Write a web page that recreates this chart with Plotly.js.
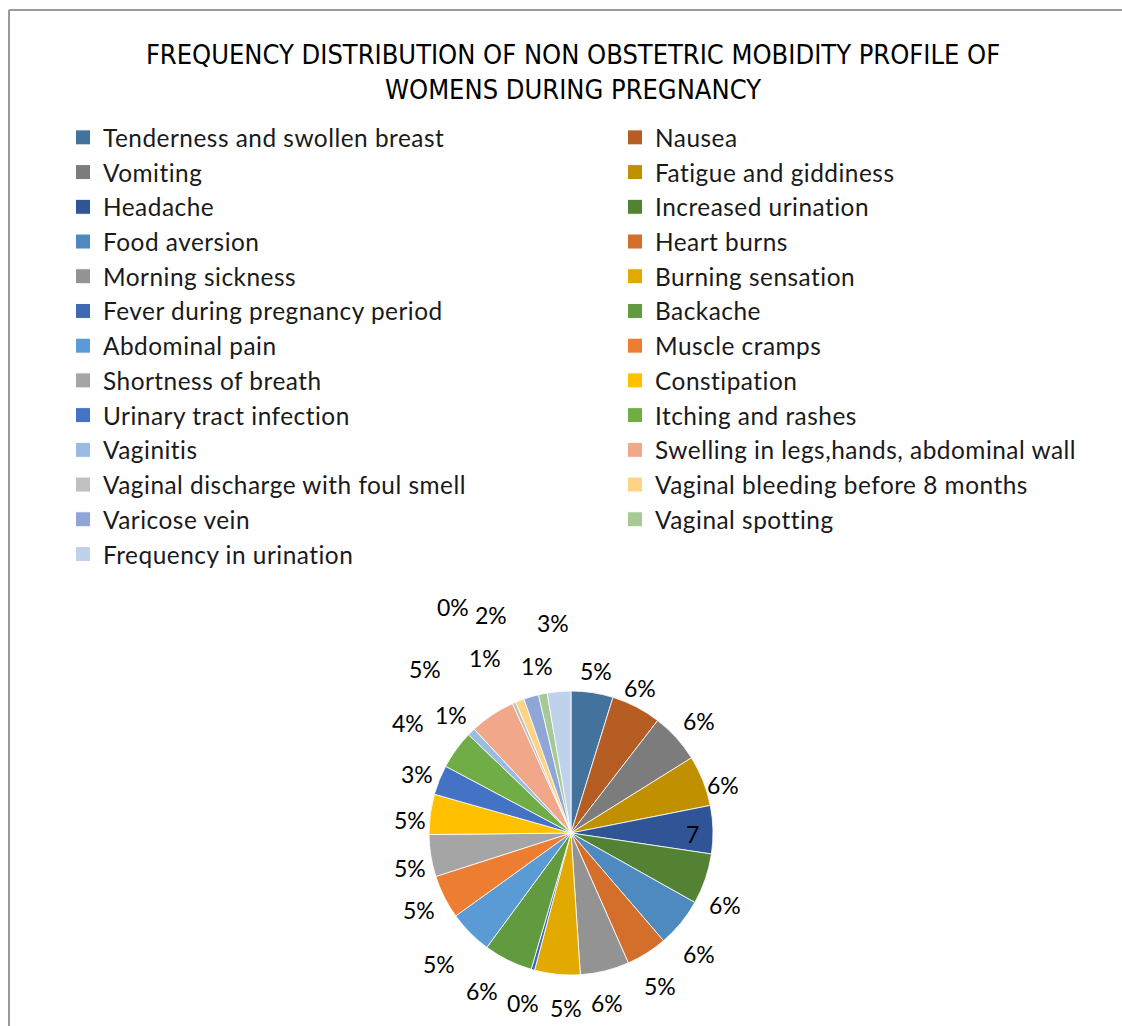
<!DOCTYPE html>
<html>
<head>
<meta charset="utf-8">
<script src="https://cdn.plot.ly/plotly-3.0.1.min.js"></script>
<style>
  html, body { margin: 0; padding: 0; background: #ffffff; overflow: hidden; }
  #chart { width: 1200px; height: 1026px; }
  #chart .legendtext { letter-spacing: 0.5px; }
  #chart .legendpoints path { transform: translate(20px, 0px) scale(1.25); }
</style>
</head>
<body>
<div id="chart"></div>
<script>
// Categories in slice order (clockwise from 12 o'clock)
const categories = [
  "Tenderness and swollen breast", "Nausea",
  "Vomiting", "Fatigue and giddiness",
  "Headache", "Increased urination",
  "Food aversion", "Heart burns",
  "Morning sickness", "Burning sensation",
  "Fever during pregnancy period", "Backache",
  "Abdominal pain", "Muscle cramps",
  "Shortness of breath", "Constipation",
  "Urinary tract infection", "Itching and rashes",
  "Vaginitis", "Swelling in legs,hands, abdominal wall",
  "Vaginal discharge with foul smell", "Vaginal bleeding before 8 months",
  "Varicose vein", "Vaginal spotting",
  "Frequency in urination"
];

// Frequencies
const frequencies = [
  48, 57,
  57, 58,
  55, 58,
  56, 47,
  56, 52,
  4, 56,
  50, 50,
  48, 46,
  34, 44,
  9, 52,
  4, 10,
  17, 10,
  27
];

// Data label printed on each slice (as shown in the chart)
const dataLabels = [
  "5%", "6%",
  "6%", "6%",
  "7", "6%",
  "6%", "5%",
  "6%", "5%",
  "0%", "6%",
  "5%", "5%",
  "5%", "5%",
  "3%", "4%",
  "1%", "5%",
  "0%", "1%",
  "2%", "1%",
  "3%"
];

const sliceColors = [
  "#43729D", "#B55D23",
  "#7C7C7C", "#C09000",
  "#2F5597", "#548235",
  "#4E8AC0", "#D36E2B",
  "#939393", "#E2AA00",
  "#3E67B4", "#619A3F",
  "#5B9BD5", "#ED7D31",
  "#A5A5A5", "#FFC000",
  "#4472C4", "#70AD47",
  "#9BBCE2", "#F1A88A",
  "#C0C0C0", "#FFD386",
  "#8FA6D6", "#A6C996",
  "#BED2EC"
];

// Label placement (style): distance of each data label from the pie centre (px)
// and a small angular nudge (degrees) away from the slice's mid-angle.
const labelRadius = [164, 161, 170, 159, 122, 170, 176, 177, 174, 175, 177, 181, 186,
                     170, 165, 162, 165, 197, 168, 219, 255, 195, 232, 170, 211];
const labelNudge  = [0, -2, 1, 4, 2, 6, 4, 2, 2, -4, 0, 3, 0,
                     0, -3, -3, -1, -2, -1, -8, -4, -5, -4, 0, 0];

const titleText = "FREQUENCY DISTRIBUTION OF NON OBSTETRIC MOBIDITY PROFILE OF<br>WOMENS DURING PREGNANCY";

const W = 1200, H = 1026;
const cx = 571, cy = 833, R = 142;
const labelFont = { family: 'Lato, "Open Sans", sans-serif', size: 23, color: '#000000' };

const trace = {
  type: 'pie',
  labels: categories,
  values: frequencies,
  textinfo: 'none',
  sort: false,
  direction: 'clockwise',
  rotation: 0,
  marker: { colors: sliceColors, line: { color: '#ffffff', width: 0.8 } },
  automargin: false,
  domain: {
    x: [(cx - R) / W, (cx + R) / W],
    y: [(H - cy - R) / H, (H - cy + R) / H]
  },
  hoverinfo: 'label+value+percent'
};

// Data labels: placed at each slice's mid-angle, derived from the values
const total = frequencies.reduce((a, b) => a + b, 0);
let cum = 0;
const annotations = frequencies.map((v, i) => {
  const midDeg = 360 * (cum + v / 2) / total + labelNudge[i];
  cum += v;
  const a = midDeg * Math.PI / 180;
  const px = cx + labelRadius[i] * Math.sin(a);
  const py = cy - labelRadius[i] * Math.cos(a);
  return {
    text: dataLabels[i],
    xref: 'paper', yref: 'paper',
    x: px / W, y: 1 - py / H,
    xanchor: 'center', yanchor: 'middle',
    showarrow: false,
    font: labelFont
  };
});

const layout = {
  width: W,
  height: H,
  margin: { l: 0, r: 0, t: 0, b: 0, pad: 0 },
  paper_bgcolor: '#ffffff',
  plot_bgcolor: '#ffffff',
  font: { family: 'Lato, "Open Sans", sans-serif', color: '#000000' },
  title: {
    text: titleText,
    x: 573 / W,
    xanchor: 'center',
    xref: 'paper',
    y: 1 - 64 / H,
    yref: 'paper',
    yanchor: 'middle',
    font: { family: '"DejaVu Sans Condensed", "Liberation Sans Narrow", sans-serif', size: 27, color: '#000000' }
  },
  showlegend: true,
  legend: {
    orientation: 'h',
    x: 63 / W,
    xanchor: 'left',
    y: 1 - 115 / H,
    yanchor: 'top',
    entrywidth: 507,
    entrywidthmode: 'pixels',
    traceorder: 'normal',
    font: { family: 'Lato, "Open Sans", sans-serif', size: 24.4, color: '#1a1a1a' },
    bgcolor: 'rgba(0,0,0,0)',
    borderwidth: 0
  },
  annotations: annotations,
  shapes: [
    { type: 'line', xref: 'paper', yref: 'paper', x0: 9 / W, x1: 1, y0: 1 - 10 / H, y1: 1 - 10 / H,
      line: { color: '#9a9a9a', width: 2 } },
    { type: 'line', xref: 'paper', yref: 'paper', x0: 9 / W, x1: 9 / W, y0: 0, y1: 1 - 10 / H,
      line: { color: '#9a9a9a', width: 2 } }
  ]
};

Plotly.newPlot('chart', [trace], layout, { staticPlot: true, displayModeBar: false });
</script>
</body>
</html>
